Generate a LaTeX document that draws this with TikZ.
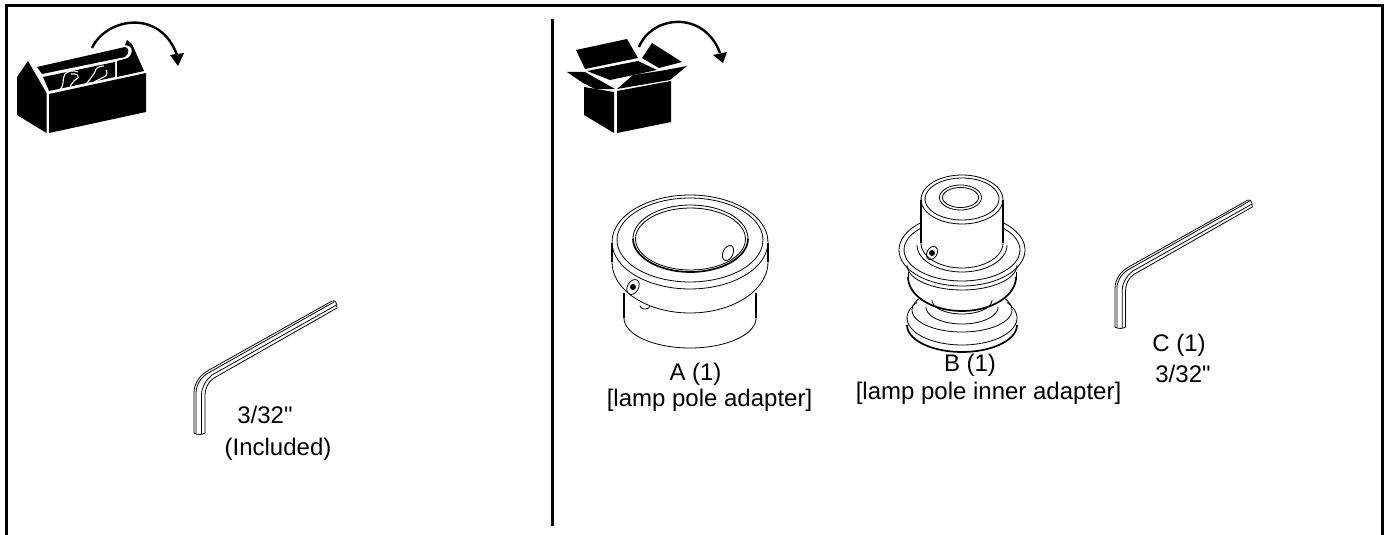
\documentclass[tikz,border=0pt]{standalone}
\usepackage{fontspec}
\setmainfont{Liberation Sans}[Ligatures=TeXOff]
\usetikzlibrary{positioning}

% elliptical arc: centre x, centre y, x radius, y radius, from angle, to angle
\newcommand{\rimarc}[7][thinline]{
    \draw[#1] plot[smooth, domain=#6:#7, samples=40] ({#2+#4*cos(\x)}, {#3+#5*sin(\x)});
}
% hex key: origin x, origin y, scale
\newcommand{\hexkey}[3]{
    \begin{scope}[shift={(#1,#2)}, scale=#3]
        \draw[thinline] (0,0) -- (0,-40) .. controls (0,-50) and (6,-58) .. (15,-63) -- (138,-132)
            .. controls (141,-133) and (143,-131) .. (143,-125) -- (20,-55)
            .. controls (14,-51) and (11,-45) .. (11,-37) -- (11,0)
            .. controls (8,2) and (3,2) .. (0,0);
        \draw[thinline] (2,0) -- (2,-40) .. controls (2,-49) and (8,-57) .. (16,-61) -- (140,-131);
        \draw[thinline] (7.5,1) -- (7.5,-38) .. controls (7.5,-46) and (12,-53) .. (18,-58) -- (142.5,-128);
    \end{scope}
}

\begin{document}
\begin{tikzpicture}[x=1pt, y=-1pt]
    % Define styles for shapes
    \tikzstyle{frameline} = [line width=3pt]
    \tikzstyle{thinline} = [line width=0.8pt]
    \tikzstyle{heavyline} = [line width=1.7pt]
    \tikzstyle{solidblack} = [fill=black, draw=none]
    \tikzstyle{turnarrow} = [line width=2.4pt]
    \tikzstyle{whiteline} = [draw=white, line width=1.1pt]
    \tikzstyle{caption} = [font=\fontsize{24}{28}\selectfont, inner sep=0pt]
    \useasboundingbox (0,0) rectangle (1387,535);

    % Frame, open at the bottom, and divider
    \coordinate (frameBL) at (6,535);
    \coordinate (frameTL) at (6,6);
    \coordinate (frameTR) at (1382.5,6);
    \coordinate (frameBR) at (1382.5,535);
    \coordinate (dividerT) at (552,19);
    \coordinate (dividerB) at (552,526);
    \draw[frameline] (frameBL) -- (frameTL) -- (frameTR) -- (frameBR);
    \draw[frameline] (dividerT) -- (dividerB);

    % Toolbox
    \fill[solidblack] (17,77) -- (28,61) -- (46.5,93) -- (46.5,133) -- (17,115) -- cycle;
    \fill[solidblack] (49,94) -- (146,73) -- (146,112) -- (49,133) -- cycle;
    \fill[solidblack] (37,67) -- (125,47) .. controls (129,48) and (130,53) .. (125,57) -- (42,74) -- cycle;
    \fill[solidblack] (125,45) -- (127,40) -- (132,44) -- (144,71) -- (117,77) -- (117,61) -- (128,58)
        .. controls (133,54) and (133,48) .. (129,46) -- cycle;
    \fill[solidblack] (43,77) -- (115,62) -- (115,77) -- (49,91) -- cycle;
    % wrenches
    \draw[whiteline] (59,90) .. controls (66,85) and (61,80) .. (65,74) .. controls (68,71) and (74,70) .. (78,72);
    \draw[whiteline] (70,87) .. controls (72,83) and (74,80) .. (78,78) .. controls (79,76) and (77,73) .. (71,74);
    \draw[whiteline] (85,85) .. controls (90,80) and (92,76) .. (95,72) .. controls (95,68) and (99,66) .. (104,66);
    \draw[whiteline] (93,83) .. controls (97,80) and (100,79) .. (104,77) .. controls (108,75) and (107,71) .. (106,70);
    \draw[turnarrow] (92,48) .. controls (106,18) and (160,8) .. (177,55);
    \fill[solidblack] (170,55) -- (184,53) -- (178,66) -- cycle;

    % Open carton
    \fill[solidblack] (576,50) -- (627,39) -- (638,58) -- (585,69) -- cycle;
    \fill[solidblack] (652,43) -- (682,62) -- (659,68) -- (642,58) -- cycle;
    \fill[solidblack] (587,71) -- (638,61) -- (657,70) -- (610,80) -- cycle;
    \fill[solidblack] (567,72) -- (585,72) -- (615,89) -- (595,89) -- (583,83) -- cycle;
    \fill[solidblack] (687,66) -- (660,71) -- (633,75) -- (617,89) -- (670,80) -- cycle;
    \fill[solidblack] (584,87) -- (614,92) -- (614,133) -- (584,115) -- cycle;
    \fill[solidblack] (617,91) -- (671,81) -- (671,122) -- (617,133) -- cycle;
    \draw[turnarrow] (639,47) .. controls (652,15) and (704,10) .. (720,53);
    \fill[solidblack] (713,55) -- (727,52) -- (723,63) -- cycle;

    % Part A
    \rimarc{690}{242}{78}{47}{0}{360}
    \rimarc{690}{240}{73}{42}{0}{360}
    \rimarc[heavyline]{690.5}{238.5}{57.5}{33.5}{0}{180}
    \rimarc{690.5}{238.5}{57.5}{33.5}{180}{360}
    \rimarc{690.5}{239}{55}{31}{0}{360}
    \draw[thinline, rotate around={-25:(728,253)}] (728,253) ellipse [x radius=5, y radius=8];
    \rimarc{690}{262}{78}{51}{0}{180}
    \coordinate (rimL) at (612,243);
    \coordinate (rimLb) at (612,262);
    \coordinate (rimR) at (768,243);
    \coordinate (rimRb) at (768,262);
    \draw[heavyline] (rimL) -- (rimLb);
    \draw[heavyline] (rimR) -- (rimRb);
    \coordinate (neckL) at (624,293);
    \coordinate (neckLb) at (624,318);
    \coordinate (neckR) at (756,293);
    \coordinate (neckRb) at (756,318);
    \draw[heavyline] (neckL) -- (neckLb);
    \draw[heavyline] (neckR) -- (neckRb);
    \rimarc{690}{318}{66}{30}{0}{180}
    \draw[thinline, rotate around={-30:(633,287)}] (633,287) ellipse [x radius=5.5, y radius=8];
    \fill[solidblack] (633,287) circle [radius=3];
    \rimarc{645}{305}{5}{4}{20}{170}

    % Part B
    \rimarc{962}{199.5}{41}{24.5}{0}{360}
    \rimarc{962}{199}{37}{21}{0}{360}
    \rimarc{960.5}{197.5}{21}{12.5}{0}{360}
    \rimarc{960.5}{197.5}{18}{10}{0}{360}
    \coordinate (stemL) at (921,200);
    \coordinate (stemLb) at (921,243);
    \coordinate (stemR) at (1003,200);
    \coordinate (stemRb) at (1003,243);
    \draw[heavyline] (stemL) -- (stemLb);
    \draw[heavyline] (stemR) -- (stemRb);
    \rimarc{962}{243}{41}{25}{0}{180}
    \rimarc{962}{245}{45}{27}{0}{180}
    \rimarc{962}{250}{63}{36}{-50}{230}
    \rimarc{962}{250}{58}{31}{-44}{224}
    \rimarc{962}{265}{55}{25}{0}{180}
    \coordinate (waistL) at (908,272);
    \coordinate (waistLb) at (908,280);
    \coordinate (waistR) at (1016,272);
    \coordinate (waistRb) at (1016,280);
    \draw[thinline] (waistL) -- (waistLb);
    \draw[thinline] (waistR) -- (waistRb);
    \rimarc[heavyline]{962}{277}{54}{34}{0}{180}
    \rimarc{962}{318}{55}{27}{-35}{215}
    \rimarc[heavyline]{962}{325}{55}{27}{0}{180}
    \rimarc{962}{310}{50}{22}{-30}{210}
    \rimarc{962}{307}{36}{17}{0}{180}
    \rimarc{962}{300}{30}{14}{0}{180}
    \fill[solidblack] (932,253) circle [radius=3];
    \draw[thinline, rotate around={-30:(932,253)}] (932,253) ellipse [x radius=5, y radius=7];

    % Hex keys
    \hexkey{194}{433}{1}
    \hexkey{1115}{327}{0.96}

    % Captions
    \node[caption] (keyLeftSize) at (265,415) {3/32"};
    \node[caption] (keyLeftNote) at (278,449) {(Included)};
    \node[caption] (partA) at (695.5,374) {A (1)};
    \node[caption] (partAname) at (709.5,400) {[lamp pole adapter]};
    \node[caption] (partB) at (970,365) {B (1)};
    \node[caption] (partBname) at (988.5,393) {[lamp pole inner adapter]};
    \node[caption] (partC) at (1179,345) {C (1)};
    \node[caption] (partCsize) at (1183,374) {3/32"};
\end{tikzpicture}
\end{document}
